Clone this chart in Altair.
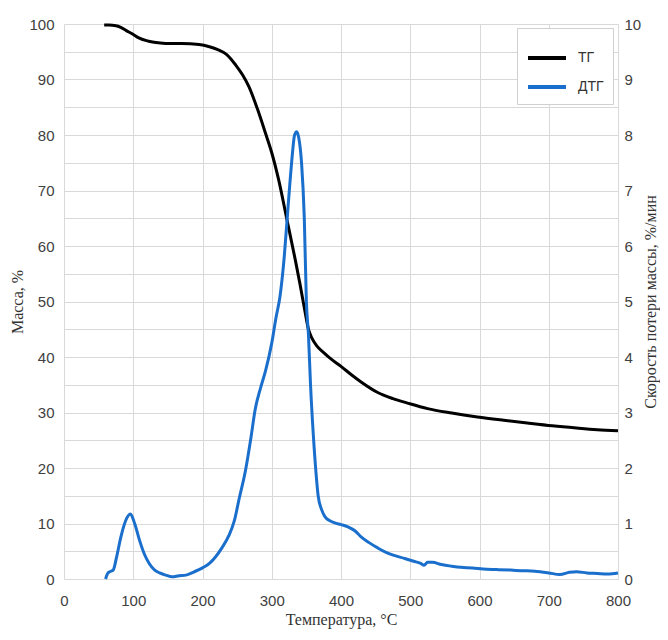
import altair as alt
import pandas as pd

# ТГ curve (temperature °C, mass %)
tg_t = [58, 65, 75, 82, 90, 99, 108, 119, 130, 147, 170, 195, 210, 222, 235, 248, 258, 267, 279, 291,
        300, 310, 322, 334, 341, 348, 353, 358, 365, 375, 385, 400, 415, 429, 453, 475, 496, 525, 560,
        597, 635, 669, 705, 740, 770, 800]
tg_v = [99.8, 99.8, 99.7, 99.4, 98.8, 98.2, 97.5, 97.0, 96.7, 96.5, 96.5, 96.3, 95.9, 95.4, 94.5, 92.6,
        90.8, 88.7, 84.8, 80.3, 76.8, 71.9, 64.7, 57.5, 53.0, 48.2, 45.0, 43.4, 42.0, 40.8, 39.7, 38.3,
        36.8, 35.5, 33.6, 32.5, 31.7, 30.7, 29.9, 29.2, 28.6, 28.1, 27.6, 27.2, 26.9, 26.7]

# ДТГ curve (temperature °C, mass loss rate %/min)
dtg_t = [60, 63, 66, 71, 76, 82, 89, 96, 102, 109, 116, 123, 131, 138, 147, 156, 166, 176, 188, 200,
         210, 219, 228, 238, 246, 253, 262, 270, 276, 284, 291, 300, 306, 312, 318, 322, 326, 329, 333,
         336, 339, 343, 347, 350, 353, 356, 360, 364, 367, 372, 377, 384, 391, 400, 410, 420, 429, 440,
         453, 465, 478, 492, 505, 515, 520, 525, 532, 545, 560, 573, 590, 605, 625, 645, 660, 680, 700,
         716, 730, 740, 755, 770, 785, 800]
dtg_v = [0.0, 0.1, 0.13, 0.16, 0.4, 0.75, 1.05, 1.17, 1.0, 0.7, 0.45, 0.28, 0.16, 0.11, 0.07, 0.04, 0.06,
         0.07, 0.13, 0.2, 0.28, 0.4, 0.56, 0.78, 1.05, 1.45, 1.95, 2.55, 3.05, 3.45, 3.75, 4.25, 4.7, 5.1,
         5.8, 6.45, 7.1, 7.55, 8.0, 8.06, 7.95, 7.5, 6.5, 5.0, 4.4, 3.5, 2.6, 1.9, 1.5, 1.25, 1.12, 1.05,
         1.01, 0.98, 0.94, 0.87, 0.76, 0.66, 0.56, 0.48, 0.42, 0.37, 0.32, 0.28, 0.25, 0.3, 0.3, 0.26,
         0.23, 0.21, 0.2, 0.18, 0.17, 0.16, 0.15, 0.14, 0.11, 0.08, 0.12, 0.13, 0.11, 0.1, 0.09, 0.11]

series = ["ТГ", "ДТГ"]
colors = ["#000000", "#1a6fcc"]

tg = pd.DataFrame({"t": tg_t, "v": tg_v, "s": series[0]})
dtg = pd.DataFrame({"t": dtg_t, "v": dtg_v, "s": series[1]})

label_font = "Liberation Sans"
title_font = "Liberation Serif"
label_color = "#404040"
label_size = 15
title_size = 16

x_enc = alt.X("t:Q", scale=alt.Scale(domain=[0, 800], nice=False),
              axis=alt.Axis(values=list(range(0, 801, 50)),
                            labelExpr="datum.value % 100 == 0 ? datum.label : ''",
                            title="Температура, °C", titleFont=title_font, titleFontSize=title_size,
                            titleFontWeight="normal", titlePadding=3, titleColor="#333",
                            labelFont=label_font, labelFontSize=label_size, labelColor=label_color,
                            labelPadding=14, domain=False, ticks=False,
                            grid=True, gridColor="#d9d9d9", labelFlush=False))

color_enc = alt.Color("s:N", scale=alt.Scale(domain=series, range=colors),
                      legend=alt.Legend(title=None, orient="none", legendX=453, legendY=4,
                                        symbolType="stroke", symbolSize=1444, symbolStrokeWidth=4,
                                        labelFont=label_font, labelFontSize=14, labelColor="#333",
                                        fillColor="white", strokeColor="#d0d0d0", padding=9,
                                        rowPadding=-11, labelOffset=10))

tg_line = alt.Chart(tg).mark_line(strokeWidth=3, interpolate="monotone").encode(
    x=x_enc,
    y=alt.Y("v:Q", scale=alt.Scale(domain=[0, 100], nice=False),
            axis=alt.Axis(values=list(range(0, 101, 5)),
                          labelExpr="datum.value % 10 == 0 ? datum.label : ''",
                          title="Масса, %", titleFont=title_font, titleFontSize=title_size,
                          titleFontWeight="normal", titleColor="#333", titlePadding=3,
                          labelFont=label_font, labelFontSize=label_size, labelColor=label_color,
                          labelPadding=10, domain=False, ticks=False,
                          grid=True, gridColor="#d9d9d9")),
    color=color_enc,
)

dtg_line = alt.Chart(dtg).mark_line(strokeWidth=3, interpolate="monotone").encode(
    x=alt.X("t:Q", scale=alt.Scale(domain=[0, 800], nice=False)),
    y=alt.Y("v:Q", scale=alt.Scale(domain=[0, 10], nice=False),
            axis=alt.Axis(orient="right", values=list(range(0, 11)),
                          title="Скорость потери массы, %/мин", titleFont=title_font,
                          titleFontSize=title_size, titleFontWeight="normal", titleColor="#333",
                          titleAngle=270, titleBaseline="top", titlePadding=2,
                          labelFont=label_font, labelFontSize=label_size,
                          labelColor=label_color, labelPadding=6, domain=False, ticks=False,
                          grid=False)),
    color=color_enc,
)

chart = alt.layer(tg_line, dtg_line).resolve_scale(y="independent").properties(
    width=554, height=555,
    autosize=alt.AutoSizeParams(type="none"),
    padding={"left": 56, "top": 16, "right": 42, "bottom": 52},
).configure_view(stroke=None)

chart.save("out.html", embed_options={"renderer": "svg", "actions": False})
